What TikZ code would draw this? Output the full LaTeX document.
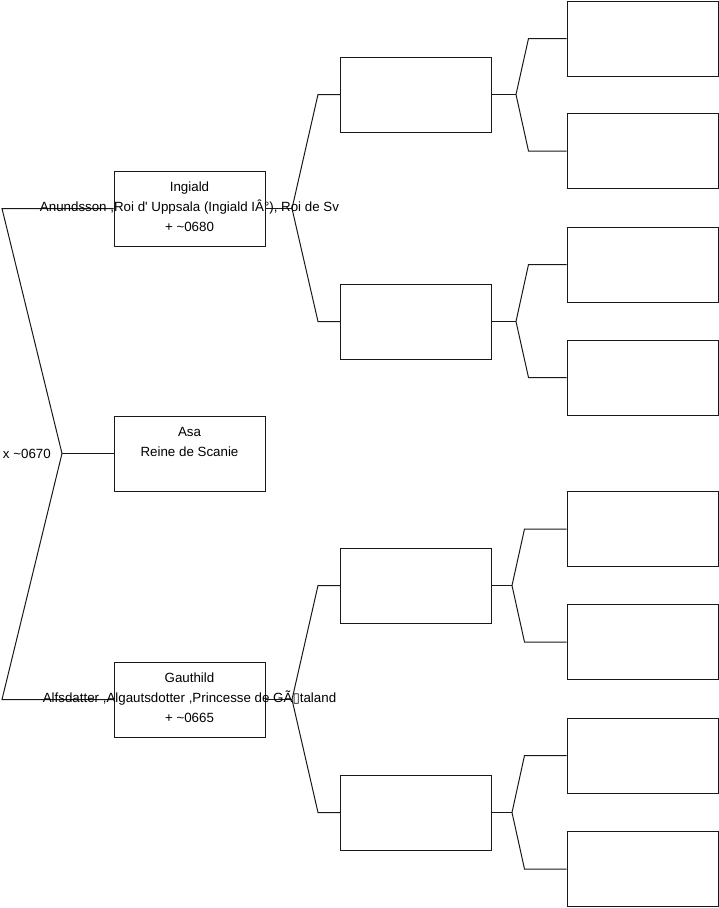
\documentclass[tikz,border=0pt]{standalone}
\usepackage{fontspec}
\setmainfont{Liberation Sans}
\newfontfamily\symfont{DejaVu Sans}

\begin{document}
\begin{tikzpicture}[
  x=1pt, y=-1pt,
  font=\fontsize{13.33}{20}\selectfont,
  box/.style={draw=black!90, line width=1pt, minimum width=151pt, minimum height=75pt, inner sep=0pt},
  txt/.style={anchor=north, align=center, inner sep=0pt, yshift=-11pt},
  link/.style={draw=black!90, line width=1pt}
]
\useasboundingbox (0,0) rectangle (719,908);

% generation 1
\node[box] (ingiald) at (189.5,208.5) {};
\node[box] (asa) at (189.5,453.5) {};
\node[box] (gauthild) at (189.5,699.5) {};
% generation 2
\node[box] (p1) at (416,94.5) {};
\node[box] (p2) at (416,321.5) {};
\node[box] (p3) at (416,585.5) {};
\node[box] (p4) at (416,812.5) {};
% generation 3
\node[box] (g1) at (642.5,38.5) {};
\node[box] (g2) at (642.5,151) {};
\node[box] (g3) at (642.5,264.5) {};
\node[box] (g4) at (642.5,377.5) {};
\node[box] (g5) at (642.5,529) {};
\node[box] (g6) at (642.5,642) {};
\node[box] (g7) at (642.5,755.5) {};
\node[box] (g8) at (642.5,869) {};

% union fork
\coordinate (f0) at (62,453.5);
\coordinate (f0a) at (2,208.5);
\coordinate (f0b) at (2,699.5);
\draw[link] (asa.west) -- (f0);
\draw[link] (ingiald.west) -- (f0a) -- (f0) -- (f0b) -- (gauthild.west);
\node[anchor=east, inner sep=0pt] (union) at (51,453.5) {x \textasciitilde0670};

% parents forks
\coordinate (f1) at (292,208.5);
\coordinate (f2) at (292,699.5);
\draw[link] (ingiald.east) -- (f1);
\draw[link] (p1.west) -- ([xshift=-22pt]p1.west) -- (f1) -- ([xshift=-22pt]p2.west) -- (p2.west);
\draw[link] (gauthild.east) -- (f2);
\draw[link] (p3.west) -- ([xshift=-22pt]p3.west) -- (f2) -- ([xshift=-22pt]p4.west) -- (p4.west);

% grandparents forks
\draw[link] (p1.east) -- ([xshift=24pt]p1.east) coordinate (f3);
\draw[link] (g1.west) -- ([xshift=-38pt]g1.west) -- (f3) -- ([xshift=-38pt]g2.west) -- (g2.west);
\draw[link] (p2.east) -- ([xshift=24pt]p2.east) coordinate (f4);
\draw[link] (g3.west) -- ([xshift=-38pt]g3.west) -- (f4) -- ([xshift=-38pt]g4.west) -- (g4.west);
\draw[link] (p3.east) -- ([xshift=20pt]p3.east) coordinate (f5);
\draw[link] (g5.west) -- ([xshift=-42pt]g5.west) -- (f5) -- ([xshift=-42pt]g6.west) -- (g6.west);
\draw[link] (p4.east) -- ([xshift=20pt]p4.east) coordinate (f6);
\draw[link] (g7.west) -- ([xshift=-42pt]g7.west) -- (f6) -- ([xshift=-42pt]g8.west) -- (g8.west);

% names
\node[txt] (ingiald-t) at (ingiald.north) {\rule{0pt}{10pt}Ingiald\\Anundsson ,Roi d\textquotesingle\ Uppsala (Ingiald IÂ°), Roi de Sv\\+ \textasciitilde0680};
\node[txt] (asa-t) at (asa.north) {\rule{0pt}{10pt}Asa\\Reine de Scanie};
\node[txt] (gauthild-t) at (gauthild.north) {\rule{0pt}{10pt}Gauthild\\Alfsdatter ,Algautsdotter ,Princesse de GÃ{\symfont ▯}taland\\+ \textasciitilde0665};
\end{tikzpicture}
\end{document}
